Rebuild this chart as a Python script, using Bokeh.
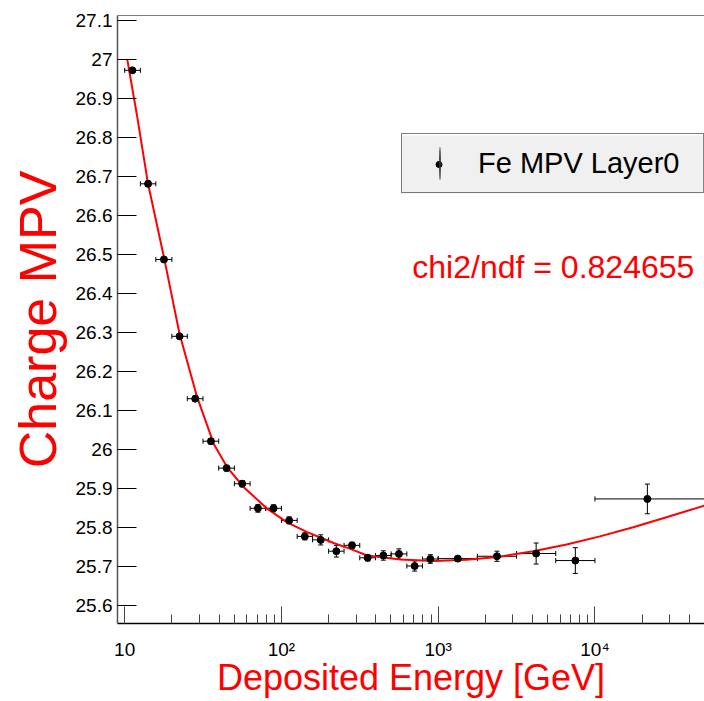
import math
from bokeh.plotting import figure
from bokeh.models import (ColumnDataSource, Whisker, TeeHead, FixedTicker, CustomJSTickFormatter,
                          Legend, LegendItem, Label, Span, Range1d, BoxAnnotation)
from bokeh.embed import file_html
from bokeh.resources import INLINE

# ---------------- data ----------------
energy = [11.2, 14.1, 17.8, 22.4, 28.2, 35.5, 44.7, 56.2, 70.8, 89.1,
          112, 141, 178, 224, 282, 355, 447, 562, 708, 891,
          1334, 2371, 4217, 7499, 21600]
energy_lo = [10.0, 12.6, 15.8, 20.0, 25.1, 31.6, 39.8, 50.1, 63.1, 79.4,
             100, 126, 158, 200, 251, 316, 398, 501, 631, 794,
             1000, 1778, 3162, 5623, 10000]
energy_hi = [12.6, 15.8, 20.0, 25.1, 31.6, 39.8, 50.1, 63.1, 79.4, 100,
             126, 158, 200, 251, 316, 398, 501, 631, 794, 1000,
             1778, 3162, 5623, 10000, 100000]
mpv = [26.973, 26.682, 26.488, 26.291, 26.131, 26.022, 25.953, 25.913, 25.850, 25.850,
       25.819, 25.778, 25.769, 25.740, 25.755, 25.723, 25.729, 25.733, 25.702, 25.720,
       25.721, 25.727, 25.734, 25.716, 25.874]
mpv_err = [0.005, 0.007, 0.006, 0.006, 0.007, 0.007, 0.007, 0.008, 0.010, 0.009,
           0.009, 0.009, 0.013, 0.015, 0.008, 0.008, 0.012, 0.013, 0.013, 0.011,
           0.006, 0.013, 0.027, 0.033, 0.038]

fit_x = [10.4, 12.0, 14.1, 17.8, 22.4, 29.0, 37.0, 45.1, 57.5, 81.1,
         108.7, 145.8, 215, 275, 352, 573, 933, 1524, 2483, 4047,
         6600, 10770, 17550, 28600, 50000]
fit_y = [27.000, 26.856, 26.682, 26.494, 26.297, 26.135, 26.015, 25.955, 25.904, 25.849,
         25.814, 25.789, 25.761, 25.746, 25.729, 25.719, 25.715, 25.718, 25.726, 25.740,
         25.757, 25.778, 25.8015, 25.827, 25.857]

y_ticks = [25.6, 25.7, 25.8, 25.9, 26.0, 26.1, 26.2, 26.3, 26.4, 26.5,
           26.6, 26.7, 26.8, 26.9, 27.0, 27.1]
x_ticks = [10, 100, 1000, 10000]
x_tick_labels = ["10", "10\u00b2", "10\u00b3", "10\u2074"]
x_minor_ticks = [m * d for d in (10, 100, 1000, 10000) for m in range(2, 10) if m * d < 50000]

legend_label = "Fe MPV Layer0"
chi2_text = "chi2/ndf = 0.824655"
x_title = "Deposited Energy [GeV]"
y_title = "Charge MPV"

X_RANGE = (9.0, 50000.0)
Y_RANGE = (25.5546, 27.1136)

FONT = "Liberation Sans"

# ---------------- figure ----------------
W, H = 704, 701
MB_L, MB_R, MB_T, MB_B = 117, 0, 15, 78
p = figure(width=W, height=H, x_axis_type="log",
           x_range=Range1d(*X_RANGE), y_range=Range1d(*Y_RANGE),
           output_backend="svg", toolbar_location=None,
           min_border_left=MB_L, min_border_right=MB_R,
           min_border_top=MB_T, min_border_bottom=MB_B)
p.xgrid.visible = False
p.ygrid.visible = False
p.outline_line_color = None
p.background_fill_color = "white"
p.border_fill_color = "white"

# frame geometry in canvas pixels (for placing legend decorations)
FL = MB_L
FT = MB_T
FW = W - MB_L - MB_R
FH = H - MB_T - MB_B


def canvas_to_data(px, py):
    l0, l1 = math.log10(X_RANGE[0]), math.log10(X_RANGE[1])
    lx = l0 + (px - FL) / FW * (l1 - l0)
    y = Y_RANGE[1] - (py - FT) / FH * (Y_RANGE[1] - Y_RANGE[0])
    return 10 ** lx, y


# top frame line
p.add_layout(Span(location=Y_RANGE[1], dimension="width", line_color="black", line_width=1))

# y axis
ya = p.yaxis[0]
ya.ticker = FixedTicker(ticks=y_ticks, minor_ticks=[])
ya.formatter = CustomJSTickFormatter(code="return tick.toFixed(1).replace(/\\.0$/, '');")
ya.major_tick_in = 19
ya.major_tick_out = 0
ya.minor_tick_in = 0
ya.minor_tick_out = 0
ya.major_label_standoff = 5
ya.major_label_text_font = FONT
ya.major_label_text_font_size = "19px"
ya.major_label_text_color = "black"
ya.axis_line_color = "#555555"
ya.axis_line_width = 1.5
ya.major_tick_line_color = "black"
ya.axis_label = y_title
ya.axis_label_text_font = FONT
ya.axis_label_text_font_size = "52px"
ya.axis_label_text_font_style = "normal"
ya.axis_label_text_color = "#ff0000"
ya.axis_label_standoff = 6

# x axis
xa = p.xaxis[0]
xa.ticker = FixedTicker(ticks=x_ticks, minor_ticks=x_minor_ticks)
xa.formatter = CustomJSTickFormatter(
    args=dict(tick_vals=x_ticks, tick_labels=x_tick_labels),
    code="""
    for (let i = 0; i < tick_vals.length; i++) {
        if (Math.abs(tick_vals[i] - tick) < 1e-6 * tick_vals[i]) { return tick_labels[i]; }
    }
    return '';
    """)
xa.major_tick_in = 17
xa.major_tick_out = 0
xa.minor_tick_in = 9
xa.minor_tick_out = 0
xa.major_label_standoff = 15
xa.major_label_text_font = FONT
xa.major_label_text_font_size = "19px"
xa.major_label_text_color = "black"
xa.axis_line_color = "black"
xa.axis_line_width = 1.5
xa.major_tick_line_color = "#444444"
xa.minor_tick_line_color = "#444444"
xa.axis_label = x_title
xa.axis_label_text_font = FONT
xa.axis_label_text_font_size = "36px"
xa.axis_label_text_font_style = "normal"
xa.axis_label_text_color = "#ff0000"
xa.axis_label_standoff = -6

# ---------------- legend geometry ----------------
LEG_X, LEG_Y = 284, 430
PAD, GW, GH, STAND, LW = 8, 59, 42, 9, 217
leg_w = 2 * PAD + GW + STAND + LW
leg_h = 2 * PAD + GH
leg_left = FL + LEG_X
leg_bottom = (FT + FH) - LEG_Y
leg_top = leg_bottom - leg_h

# legend background (drawn beneath everything, the legend itself is transparent)
bx0, by0 = canvas_to_data(leg_left, leg_bottom)
bx1, by1 = canvas_to_data(leg_left + leg_w, leg_top)
p.add_layout(BoxAnnotation(left=bx0, right=bx1, bottom=by0, top=by1, fill_color="#f0f0f0",
                           fill_alpha=1.0, line_color=None, level="underlay"))

# ---------------- data glyphs ----------------
src = ColumnDataSource(dict(
    x=energy, y=mpv, x_lo=energy_lo, x_hi=energy_hi,
    y_lo=[v - e for v, e in zip(mpv, mpv_err)],
    y_hi=[v + e for v, e in zip(mpv, mpv_err)],
))

p.add_layout(Whisker(source=src, base="y", lower="x_lo", upper="x_hi", dimension="width",
                     line_color="black", line_width=1,
                     lower_head=TeeHead(size=5, line_color="black", line_width=1),
                     upper_head=TeeHead(size=5, line_color="black", line_width=1)))
p.add_layout(Whisker(source=src, base="x", lower="y_lo", upper="y_hi", dimension="height",
                     line_color="black", line_width=1,
                     lower_head=TeeHead(size=5, line_color="black", line_width=1),
                     upper_head=TeeHead(size=5, line_color="black", line_width=1)))

p.line(fit_x, fit_y, line_color="#ff0000", line_width=2)
p.scatter("x", "y", source=src, size=7, marker="circle", fill_color="black", line_color="black")

# dot in the middle of the legend key
dot_x, dot_y = canvas_to_data(leg_left + PAD + GW / 2, leg_top + PAD + GH / 2)
p.scatter([dot_x], [dot_y], size=6, marker="circle", fill_color="black", line_color="black")

# ---------------- legend ----------------
key = p.ellipse(x=[1.0], y=[26.0], width=1.6, height=30, width_units="screen", height_units="screen",
                fill_color="#333333", line_color=None)

legend = Legend(items=[LegendItem(label=legend_label, renderers=[key])],
                location=(LEG_X, LEG_Y), orientation="vertical",
                padding=PAD, spacing=0, margin=0,
                glyph_width=GW, glyph_height=GH, label_standoff=STAND,
                label_width=LW, label_height=GH,
                label_text_font=FONT, label_text_font_size="29px", label_text_color="black",
                background_fill_alpha=0.0,
                border_line_color="black", border_line_width=1)
p.add_layout(legend, "center")

# chi2 text
p.add_layout(Label(x=684, y=26.468, text=chi2_text, text_font=FONT, text_font_size="32px",
                   text_color="#ff0000", text_baseline="alphabetic", text_align="left"))

open("out.html", "w").write(file_html(p, INLINE))
